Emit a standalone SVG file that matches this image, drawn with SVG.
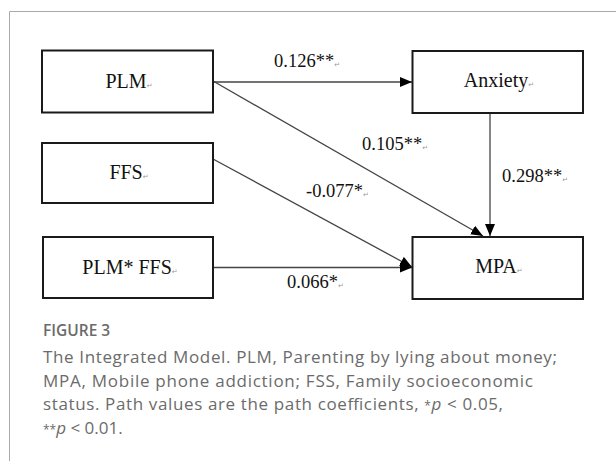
<svg xmlns="http://www.w3.org/2000/svg" width="616" height="461" viewBox="0 0 616 461">
<style>
.box{fill:#fff;stroke:#1a1a1a;stroke-width:2}
.nt{font-family:"Liberation Serif","Times New Roman",serif;font-size:20px;fill:#111;text-anchor:middle}
.lb{font-family:"Liberation Serif","Times New Roman",serif;font-size:18.5px;fill:#111}
.rm{font-family:"DejaVu Sans",sans-serif;font-size:7px;fill:#999}
.ln{stroke:#444;stroke-width:1.3;fill:none}
.cap{font-family:"Open Sans","Noto Sans",sans-serif;font-size:17px;fill:#6b6b6b}
.fig{font-family:"Open Sans","Noto Sans",sans-serif;font-size:15.5px;font-weight:600;fill:#6b6b6b}
</style>
<defs>
<marker id="ah" markerUnits="userSpaceOnUse" markerWidth="13" markerHeight="11" refX="12" refY="5" orient="auto" viewBox="0 0 13 10">
<path d="M0,0 L12,5 L0,10 z" fill="#000"/>
</marker>
</defs>
<g id="frame">
<line x1="9.5" y1="11.5" x2="616" y2="11.5" stroke="#aaa" stroke-width="1"/>
<line x1="9.5" y1="11.5" x2="9.5" y2="461" stroke="#aaa" stroke-width="1"/>
</g>
<g id="connectors">
<line class="ln" x1="213" y1="82" x2="412" y2="82" marker-end="url(#ah)"/>
<line class="ln" x1="213" y1="81" x2="483" y2="236" marker-end="url(#ah)"/>
<line class="ln" x1="490" y1="113" x2="490" y2="236" marker-end="url(#ah)"/>
<line class="ln" x1="213" y1="159" x2="412" y2="267" marker-end="url(#ah)"/>
<line class="ln" x1="213" y1="267.5" x2="412" y2="267.5" marker-end="url(#ah)"/>
<text class="lb" x="274" y="67">0.126**<tspan class="rm">↵</tspan></text>
<text class="lb" x="362" y="150">0.105**<tspan class="rm">↵</tspan></text>
<text class="lb" x="502" y="182">0.298**<tspan class="rm">↵</tspan></text>
<text class="lb" x="306" y="197">-0.077*<tspan class="rm">↵</tspan></text>
<text class="lb" x="287" y="288">0.066*<tspan class="rm">↵</tspan></text>
</g>
<g id="PLM">
<rect class="box" x="42" y="50.5" width="171" height="62"/>
<text class="nt" x="129" y="88">PLM<tspan class="rm">↵</tspan></text>
</g>
<g id="FFS">
<rect class="box" x="42" y="143" width="171" height="60"/>
<text class="nt" x="129" y="179">FFS<tspan class="rm">↵</tspan></text>
</g>
<g id="PLMxFFS">
<rect class="box" x="43" y="237" width="170" height="61"/>
<text class="nt" x="130" y="274">PLM* FFS<tspan class="rm">↵</tspan></text>
</g>
<g id="Anxiety">
<rect class="box" x="412.5" y="51" width="170.5" height="62"/>
<text class="nt" x="499" y="87">Anxiety<tspan class="rm">↵</tspan></text>
</g>
<g id="MPA">
<rect class="box" x="412.5" y="237" width="170.5" height="62"/>
<text class="nt" x="499" y="273">MPA<tspan class="rm">↵</tspan></text>
</g>
<g id="caption">
<text class="fig" x="43" y="336">FIGURE 3</text>
<text class="cap" x="43" y="363" textLength="514" lengthAdjust="spacing">The Integrated Model. PLM, Parenting by lying about money;</text>
<text class="cap" x="43" y="386.5" textLength="490" lengthAdjust="spacing">MPA, Mobile phone addiction; FSS, Family socioeconomic</text>
<text class="cap" x="43" y="410" textLength="460" lengthAdjust="spacing">status. Path values are the path coefficients, <tspan font-size="12">*</tspan><tspan font-style="italic">p</tspan> &lt; 0.05,</text>
<text class="cap" x="43" y="433.5"><tspan font-size="12">**</tspan><tspan font-style="italic">p</tspan> &lt; 0.01.</text>
</g>
</svg>
